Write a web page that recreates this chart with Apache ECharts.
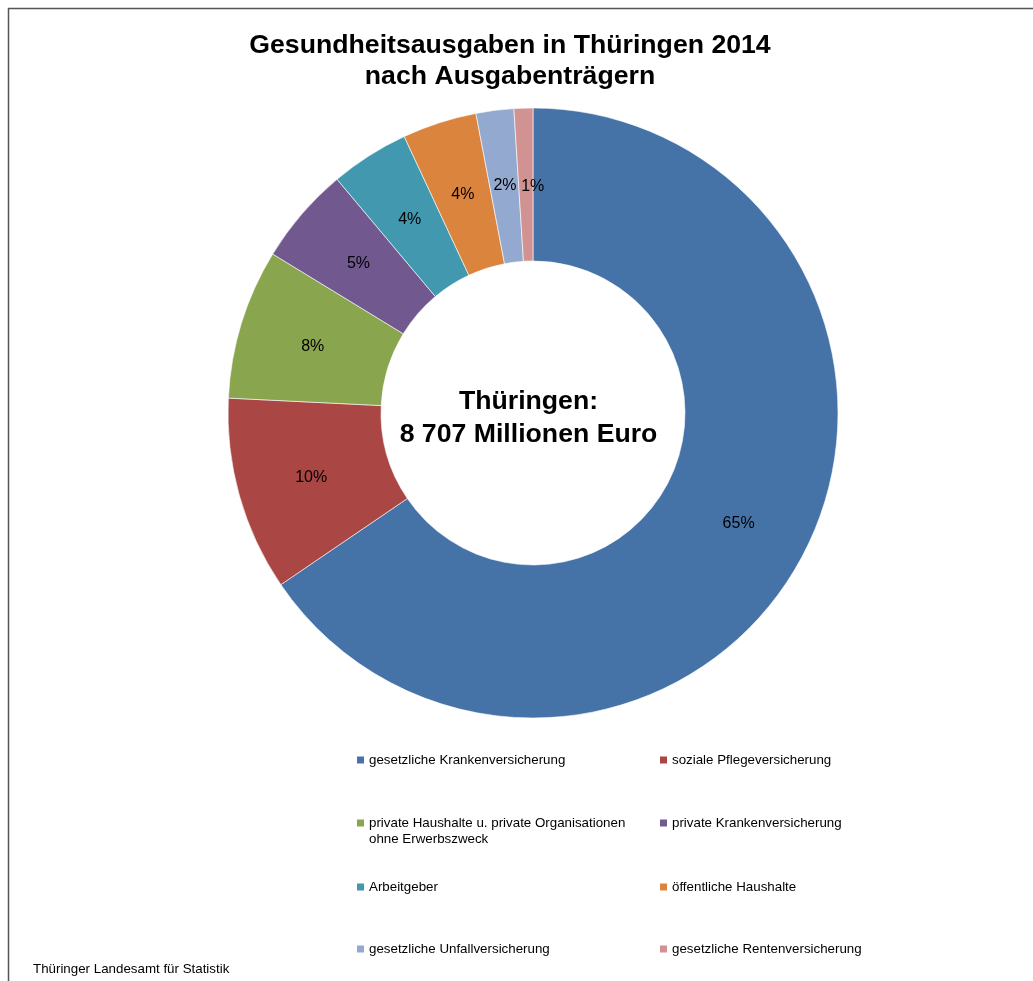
<!DOCTYPE html>
<html>
<head>
<meta charset="utf-8">
<script src="https://cdn.jsdelivr.net/npm/echarts@6/dist/echarts.min.js"></script>
<style>
  html, body { margin: 0; padding: 0; background: #fff; }
  #chart { width: 1033px; height: 981px; }
</style>
</head>
<body>
<div id="chart"></div>
<script>
// Ausgabenträger (Mio. Euro, Summe 8 707)
const categories = [
  'gesetzliche Krankenversicherung',
  'soziale Pflegeversicherung',
  'private Haushalte u. private Organisationen\nohne Erwerbszweck',
  'private Krankenversicherung',
  'Arbeitgeber',
  'öffentliche Haushalte',
  'gesetzliche Unfallversicherung',
  'gesetzliche Rentenversicherung'
]
const values = [5702, 896, 692, 450, 363, 343, 174, 87]
const colors = ['#4572A7', '#AA4643', '#89A54E', '#71588F', '#4198AF', '#DB843D', '#93A9CF', '#D19392']

const total = values.reduce((a, b) => a + b, 0)
const font = 'Arial, "Liberation Sans", sans-serif'

// legend: 2 Spalten, 4 Zeilen
const legendCols = [357, 660]
const legendRows = [752, 815, 879, 941]

let legends = categories.map((name, i) => {
  let lg = {
    data: [name],
    left: legendCols[i % 2],
    top: legendRows[Math.floor(i / 2)],
    padding: 0,
    itemWidth: 7,
    itemHeight: 7,
    itemGap: 0,
    icon: 'rect',
    selectedMode: false,
    itemStyle: { borderWidth: 0 },
    textStyle: { fontFamily: font, fontSize: 13.33, color: '#000', lineHeight: 16 }
  }
  if (name.indexOf('\n') >= 0) {
    // Quadrat neben der ersten Zeile halten
    lg.itemHeight = 23
    lg.icon = 'path://M0,0H7V7H0Z M0,23H7'
  }
  return lg
})

let pieData = categories.map((name, i) => ({ name: name, value: values[i] }))
// kleinstes Segment: Beschriftung etwas nach rechts, sonst Überlappung mit 2%
pieData[7].label = { offset: [7, 5] }

let myChart = echarts.init(document.getElementById('chart'))
myChart.setOption({
  animation: false,
  color: colors,
  title: {
    text: 'Gesundheitsausgaben in Thüringen 2014\nnach Ausgabenträgern',
    left: 505,
    textAlign: 'center',
    top: 25,
    textStyle: { fontFamily: font, fontSize: 26.67, fontWeight: 'bold', color: '#000', lineHeight: 31 }
  },
  legend: legends,
  graphic: [
    { type: 'line', shape: { x1: 8, y1: 8.5, x2: 1033, y2: 8.5 }, style: { stroke: '#555', lineWidth: 1.5 } },
    { type: 'line', shape: { x1: 8.5, y1: 8, x2: 8.5, y2: 981 }, style: { stroke: '#555', lineWidth: 1.5 } },
    {
      type: 'text', left: 33, top: 963,
      style: { text: 'Thüringer Landesamt für Statistik', font: '13.33px ' + font, fill: '#000' }
    },
    {
      type: 'text', x: 528.5, y: 418,
      style: {
        text: 'Thüringen:\n8 707 Millionen Euro',
        font: 'bold 26.67px ' + font, fill: '#000',
        align: 'center', verticalAlign: 'middle', lineHeight: 33
      }
    }
  ],
  series: [
    {
      type: 'pie',
      center: [533, 413],
      radius: [152, 305],
      startAngle: 90,
      clockwise: true,
      avoidLabelOverlap: false,
      labelLayout: { hideOverlap: false },
      itemStyle: { borderColor: '#fff', borderWidth: 0.6 },
      label: {
        show: true,
        position: 'inside',
        fontFamily: font,
        fontSize: 16,
        color: '#000',
        offset: [1, 2],
        formatter: p => Math.round(p.value / total * 100) + '%'
      },
      labelLine: { show: false },
      emphasis: { disabled: true },
      data: pieData
    }
  ]
})
</script>
</body>
</html>
